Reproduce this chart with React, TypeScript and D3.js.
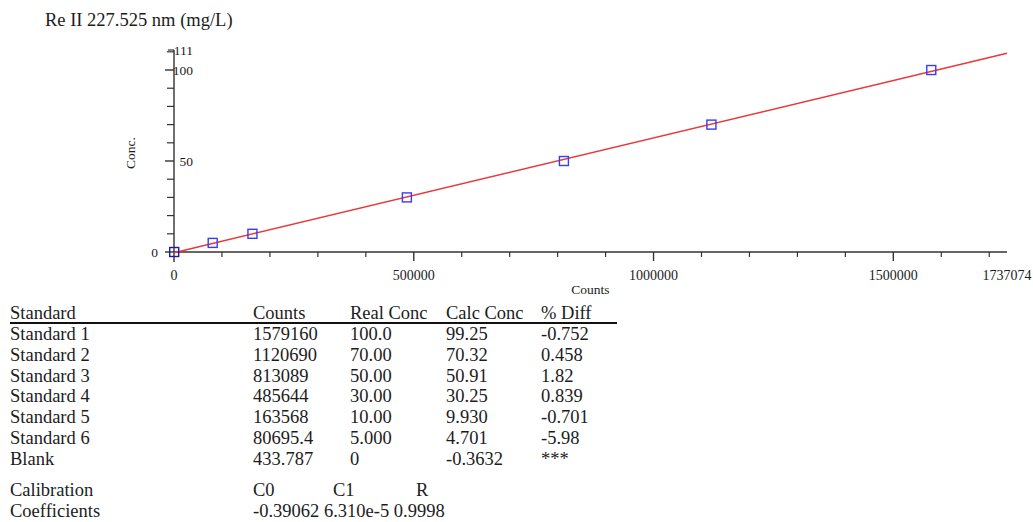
import * as d3 from 'd3';
import React from 'react';

const TITLE = "Re II 227.525 nm (mg/L)";

// calibration standards
const standardNames = ["Standard 1", "Standard 2", "Standard 3", "Standard 4", "Standard 5", "Standard 6", "Blank"];
const countsLabels = ["1579160", "1120690", "813089", "485644", "163568", "80695.4", "433.787"];
const realConcLabels = ["100.0", "70.00", "50.00", "30.00", "10.00", "5.000", "0"];
const calcConcLabels = ["99.25", "70.32", "50.91", "30.25", "9.930", "4.701", "-0.3632"];
const diffLabels = ["-0.752", "0.458", "1.82", "0.839", "-0.701", "-5.98", "***"];
const tableHeaders = ["Standard", "Counts", "Real Conc", "Calc Conc", "% Diff"];

// fit coefficients
const C0 = -0.39062;
const C1 = 6.310e-5;
const R = "0.9998";
const coefHeaders = ["C0", "C1", "R"];

const xMax = 1737074;
const yMax = 111;
const xMajorTicks = [0, 500000, 1000000, 1500000];
const yMajorTicks = [0, 50, 100];

const FONT = "'Liberation Serif', 'Times New Roman', serif";
const INK = "#1c1c1c";

const App: React.FC = () => {
  const width = 1033;
  const height = 522;
  const margin = { left: 174, right: 1007, top: 50, bottom: 252 };

  const x = d3.scaleLinear().domain([0, xMax]).range([margin.left, margin.right]);
  const y = d3.scaleLinear().domain([0, yMax]).range([margin.bottom, margin.top]);

  const xMinor = d3.range(0, xMax, 100000).filter(v => !xMajorTicks.includes(v));
  const yMinor = d3.range(0, yMax, 10).filter(v => !yMajorTicks.includes(v));

  const points = countsLabels.map((c, i) => ({ x: +c, y: +realConcLabels[i], blank: standardNames[i] === "Blank" }));

  const fitLine = d3.line<number>()
    .x(v => x(v))
    .y(v => y(C0 + C1 * v));

  const colX = [10, 253, 350, 446, 541];
  const rowY0 = 340;
  const rowStep = 20.8;
  const sq = 9;
  const fs = 18.5;

  return (
    <svg width={width} height={height} style={{ position: "absolute", left: 0, top: 0, background: "#fff" }}
      fontFamily={FONT}>
      <text x={45} y={26} fontSize={18.5} fill={INK}>{TITLE}</text>

      {/* y axis */}
      <line x1={x(0)} x2={x(0)} y1={y(yMax)} y2={y(0) + 10} stroke="#333" strokeWidth={1.4} />
      {yMajorTicks.map(v => (
        <line key={`ym${v}`} x1={x(0) - 9} x2={x(0)} y1={y(v)} y2={y(v)} stroke="#333" strokeWidth={1.4} />
      ))}
      {yMinor.map(v => (
        <line key={`yn${v}`} x1={x(0) - 7} x2={x(0)} y1={y(v)} y2={y(v)} stroke="#333" strokeWidth={1.2} />
      ))}
      <line x1={x(0) - 6} x2={x(0)} y1={y(yMax)} y2={y(yMax)} stroke="#333" strokeWidth={1.2} />
      {[yMax, 100, 50].map(v => (
        <text key={`yl${v}`} x={193} y={y(v)} dy="0.35em" fontSize={13.5} textAnchor="end" fill={INK}>{v}</text>
      ))}
      <text x={158} y={y(0)} dy="0.35em" fontSize={13.5} textAnchor="end" fill={INK}>0</text>
      <text transform={`translate(135,${(y(0) + y(yMax)) / 2 + 2}) rotate(-90)`} fontSize={13.5} textAnchor="middle" fill={INK}>Conc.</text>

      {/* x axis */}
      <line x1={x(0)} x2={x(xMax)} y1={y(0)} y2={y(0)} stroke="#333" strokeWidth={1.4} />
      {xMajorTicks.filter(v => v > 0).map(v => (
        <line key={`xm${v}`} x1={x(v)} x2={x(v)} y1={y(0)} y2={y(0) + 9} stroke="#333" strokeWidth={1.4} />
      ))}
      {xMinor.map(v => (
        <line key={`xn${v}`} x1={x(v)} x2={x(v)} y1={y(0)} y2={y(0) + 5} stroke="#333" strokeWidth={1.2} />
      ))}
      {[...xMajorTicks, xMax].map(v => (
        <text key={`xl${v}`} x={x(v)} y={280} fontSize={14} textAnchor="middle" fill={INK}>{v}</text>
      ))}
      <text x={(x(0) + x(xMax)) / 2} y={294} fontSize={13.5} textAnchor="middle" fill={INK}>Counts</text>

      {/* fit line */}
      <path d={fitLine([0, xMax]) ?? ""} fill="none" stroke="#e8383a" strokeWidth={1.4} />

      {/* standards */}
      {points.map((p, i) => (
        <rect key={`p${i}`} x={x(p.x) - sq / 2} y={y(p.y) - sq / 2} width={sq} height={sq}
          fill="none" stroke={p.blank ? "#1a1aa8" : "#3b3bf0"} strokeWidth={1.4} />
      ))}

      {/* table */}
      {tableHeaders.map((h, i) => (
        <text key={`h${i}`} x={colX[i]} y={319} fontSize={fs} fill={INK}>{h}</text>
      ))}
      <line x1={10} x2={617} y1={323} y2={323} stroke="#111" strokeWidth={1.8} />
      {standardNames.map((name, i) => {
        const ry = rowY0 + i * rowStep;
        return (
          <g key={`r${i}`} fontSize={fs} fill={INK}>
            <text x={colX[0]} y={ry}>{name}</text>
            <text x={colX[1]} y={ry}>{countsLabels[i]}</text>
            <text x={colX[2]} y={ry}>{realConcLabels[i]}</text>
            <text x={colX[3]} y={ry}>{calcConcLabels[i]}</text>
            <text x={colX[4]} y={ry}>{diffLabels[i]}</text>
          </g>
        );
      })}
      <g fontSize={fs} fill={INK}>
        <text x={colX[0]} y={496}>Calibration</text>
        <text x={253} y={496}>{coefHeaders[0]}</text>
        <text x={333} y={496}>{coefHeaders[1]}</text>
        <text x={416} y={496}>{coefHeaders[2]}</text>
        <text x={colX[0]} y={517}>Coefficients</text>
        <text x={253} y={517}>{`${C0} ${C1.toExponential(3)} ${R}`}</text>
      </g>
    </svg>
  );
};

export default App;
